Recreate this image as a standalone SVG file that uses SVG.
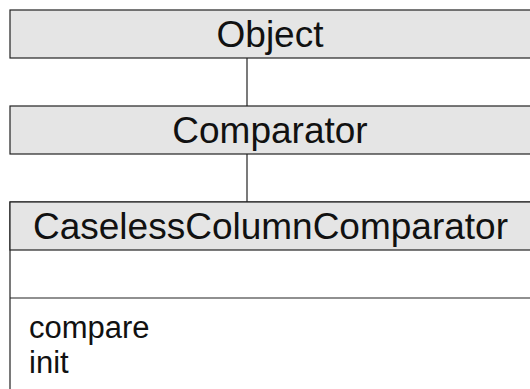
<svg xmlns="http://www.w3.org/2000/svg" width="530" height="389" viewBox="0 0 530 389">
<style>
.hdr{fill:#e5e5e5;stroke:#222;stroke-width:1.2}
.body{fill:#ffffff;stroke:#222;stroke-width:1.2}
.t{font-family:"Liberation Sans",Arial,sans-serif;font-size:37px;fill:#111;text-anchor:middle}
.m{font-family:"Liberation Sans",Arial,sans-serif;font-size:31px;fill:#111}
.c{stroke:#222;stroke-width:1.2;fill:none}
</style>
<rect width="530" height="389" fill="#ffffff"/>
<g id="connectors">
<line class="c" x1="247" y1="58" x2="247" y2="106"/>
<line class="c" x1="247" y1="154" x2="247" y2="202"/>
</g>
<g id="Object">
<rect class="hdr" x="10" y="10" width="525" height="48"/>
<text class="t" x="270" y="47">Object</text>
</g>
<g id="Comparator">
<rect class="hdr" x="10" y="106" width="525" height="48"/>
<text class="t" x="270" y="143">Comparator</text>
</g>
<g id="CaselessColumnComparator">
<rect class="body" x="10" y="202" width="525" height="200"/>
<rect class="hdr" x="10" y="202" width="525" height="48"/>
<line class="c" x1="10" y1="298" x2="535" y2="298"/>
<text class="t" x="270.5" y="239">CaselessColumnComparator</text>
<text class="m" x="29" y="338">compare</text>
<text class="m" x="29" y="373">init</text>
</g>
</svg>
